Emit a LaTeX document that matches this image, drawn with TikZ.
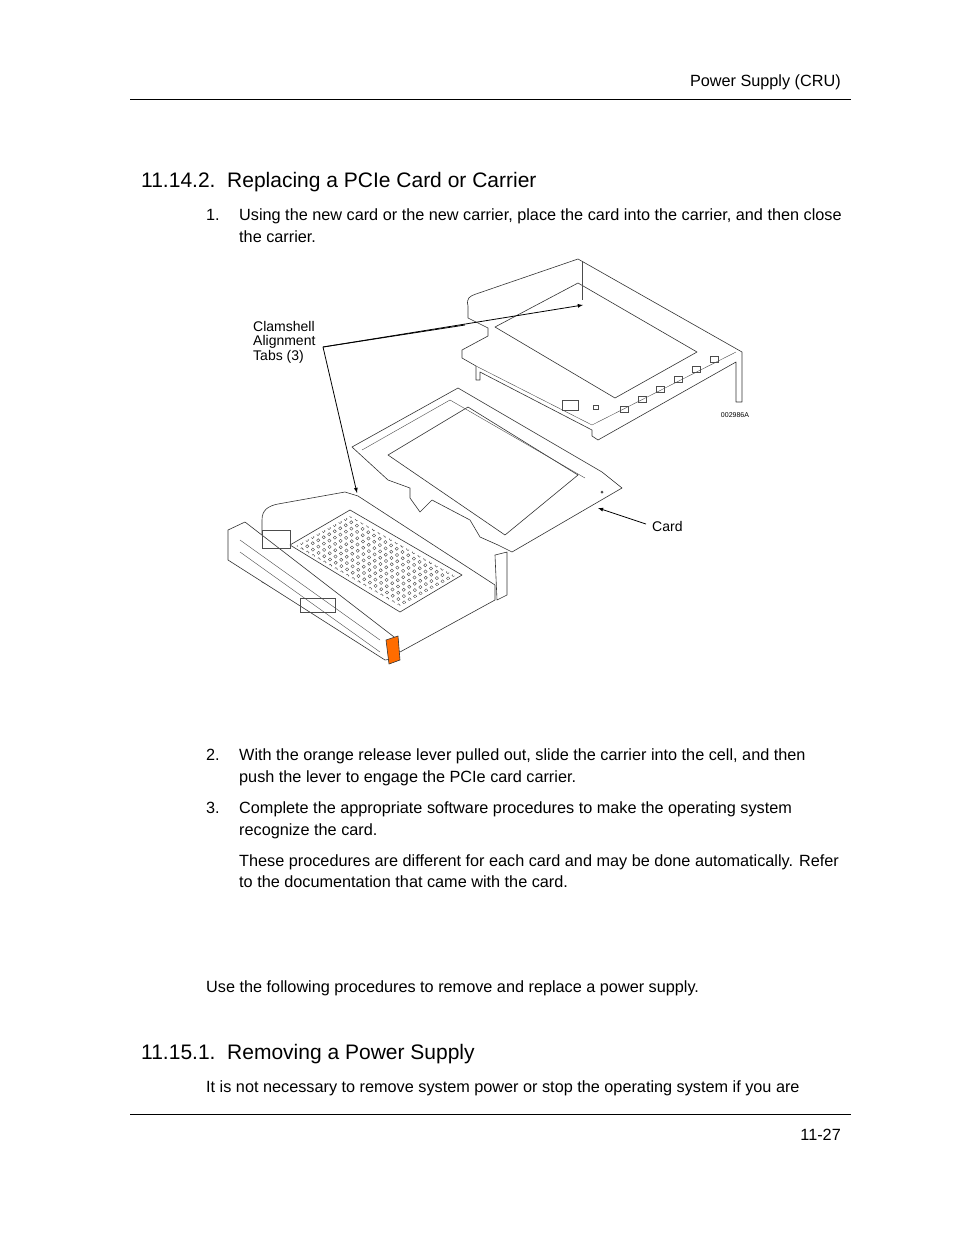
\documentclass[tikz,border=0pt]{standalone}
\usepackage{fontspec}
\setmainfont{Liberation Sans}
\begin{document}
\begin{tikzpicture}[x=1pt,y=-1pt,
  body/.style={anchor=base west,inner sep=0,font=\fontsize{16.25}{19}\selectfont},
  head/.style={anchor=base west,inner sep=0,font=\fontsize{21}{24}\selectfont},
  lbl/.style={anchor=base west,inner sep=0,font=\fontsize{14}{16}\selectfont},
  part/.style={draw=black!80,line width=0.6pt,fill=white,line join=round},
  lead/.style={draw=black,line width=0.8pt}]
\useasboundingbox (0,0) rectangle (954,1235);
\node[anchor=base east,inner sep=0,font=\fontsize{16.25}{19}\selectfont] (hdr) at (841,86) {Power Supply (CRU)};
\draw[line width=0.8pt] (130,99) -- (851,99);
\node[head] (h1) at (141,187) {11.14.2.\ \ Replacing a PCIe Card or Carrier};
\node[body] (n1) at (206,220) {1.};
\node[body] (t1a) at (239,220) {Using the new card or the new carrier, place the card into the carrier, and then close};
\node[body] (t1b) at (239,242) {the carrier.};
% ---- illustration ----
% lid
\draw[part] (468,306) .. controls (466,298) and (470,296) .. (476,294) -- (578,259) -- (742,352) -- (742,402) -- (736,402) -- (736,362) -- (598,440) -- (592,436) -- (592,430) -- (480,372) -- (480,380) -- (476,380) -- (476,366) -- (462,358) -- (462,350) -- (488,336) -- (488,328) -- (468,318) -- cycle;
\draw[part] (495,327) -- (578,283) -- (697,352) -- (615,398) -- cycle;
\draw[black!70] (582,262) -- (582,300);
\draw[black!70] (476,366) -- (592,425) -- (736,352);
\foreach \i in {0,...,5} \draw[black!70] (620+\i*18,412-\i*10) rectangle ++(8,-6);
\draw[black!70] (562,400) rectangle (578,410);
\draw[black!70] (593,405) rectangle (598,409);
\node[inner sep=0,font=\fontsize{7}{8}\selectfont] (code) at (735,415) {002986A};
% card
\draw[part] (352,447) -- (458,388) -- (602,472) -- (622,488) -- (512,552) -- (498,545) -- (480,537) -- (470,520) -- (432,500) -- (420,512) -- (410,498) -- (410,488) -- (388,480) -- cycle;
\draw[part] (388,455) -- (468,407) -- (578,475) -- (505,535) -- cycle;
\draw[black!70] (362,450) -- (450,400) -- (585,478);
\fill[black!70] (602,492) circle (1.5);
% carrier
\draw[part] (262,520) .. controls (262,510) and (268,506) .. (278,504) -- (345,492) -- (358,496) -- (495,585) -- (495,600) -- (400,652) -- (262,582) -- cycle;
\draw[part] (228,530) -- (245,522) -- (385,630) -- (398,640) -- (398,658) -- (385,660) -- (228,560) -- cycle;
\draw[part] (290,545) -- (350,510) -- (462,575) -- (400,612) -- cycle;
\begin{scope}
\clip (296,546) -- (350,516) -- (455,576) -- (400,606) -- cycle;
\foreach \a in {0,...,18} \foreach \b in {0,...,18}
  \draw[black!75,line width=0.4pt] ({296+\a*5.5+\b*5.7},{546-\a*3+\b*3.3}) circle (1.6);
\end{scope}
\draw[part] (495,555) -- (507,552) -- (507,595) -- (497,600) -- cycle;
\draw[black!70] (240,540) -- (380,640);
\draw[black!70] (240,552) -- (380,652);
\draw[black!70] (262,530) rectangle (290,548);
\draw[black!70] (300,598) rectangle (335,612);
\draw[part,fill=orange!85!red] (386,640) -- (398,636) -- (400,660) -- (389,664) -- cycle;
% leaders
\node[lbl,align=left,anchor=north west] (tabs) at (253,321) {Clamshell\\[-1.5pt]Alignment\\[-1.5pt]Tabs (3)};
\coordinate (lp) at (323,347);
\coordinate (tab1) at (583,305);
\coordinate (tab2) at (465,325);
\coordinate (tab3) at (357,493);
\draw[lead,-latex] (lp) -- (tab1);
\draw[lead] (lp) -- (tab2);
\draw[lead,-latex] (lp) -- (tab3);
\node[lbl] (card) at (652,531) {Card};
\coordinate (cardpt) at (598,508);
\draw[lead,-latex] (646,524) -- (cardpt);
% ---- rest of text ----
\node[body] (n2) at (206,760) {2.};
\node[body] (t2a) at (239,760) {With the orange release lever pulled out, slide the carrier into the cell, and then};
\node[body] (t2b) at (239,782) {push the lever to engage the PCIe card carrier.};
\node[body] (n3) at (206,813) {3.};
\node[body] (t3a) at (239,813) {Complete the appropriate software procedures to make the operating system};
\node[body] (t3b) at (239,835) {recognize the card.};
\node[body] (t3c) at (239,866) {These procedures are different for each card and may be done automatically. Refer};
\node[body] (t3d) at (239,887) {to the documentation that came with the card.};
\node[body] (p1) at (206,992) {Use the following procedures to remove and replace a power supply.};
\node[head] (h2) at (141,1059) {11.15.1.\ \ Removing a Power Supply};
\node[body] (p2) at (206,1092) {It is not necessary to remove system power or stop the operating system if you are};
\draw[line width=0.8pt] (130,1114) -- (851,1114);
\node[anchor=base east,inner sep=0,font=\fontsize{16.25}{19}\selectfont] (pg) at (841,1140) {11-27};
\end{tikzpicture}
\end{document}
